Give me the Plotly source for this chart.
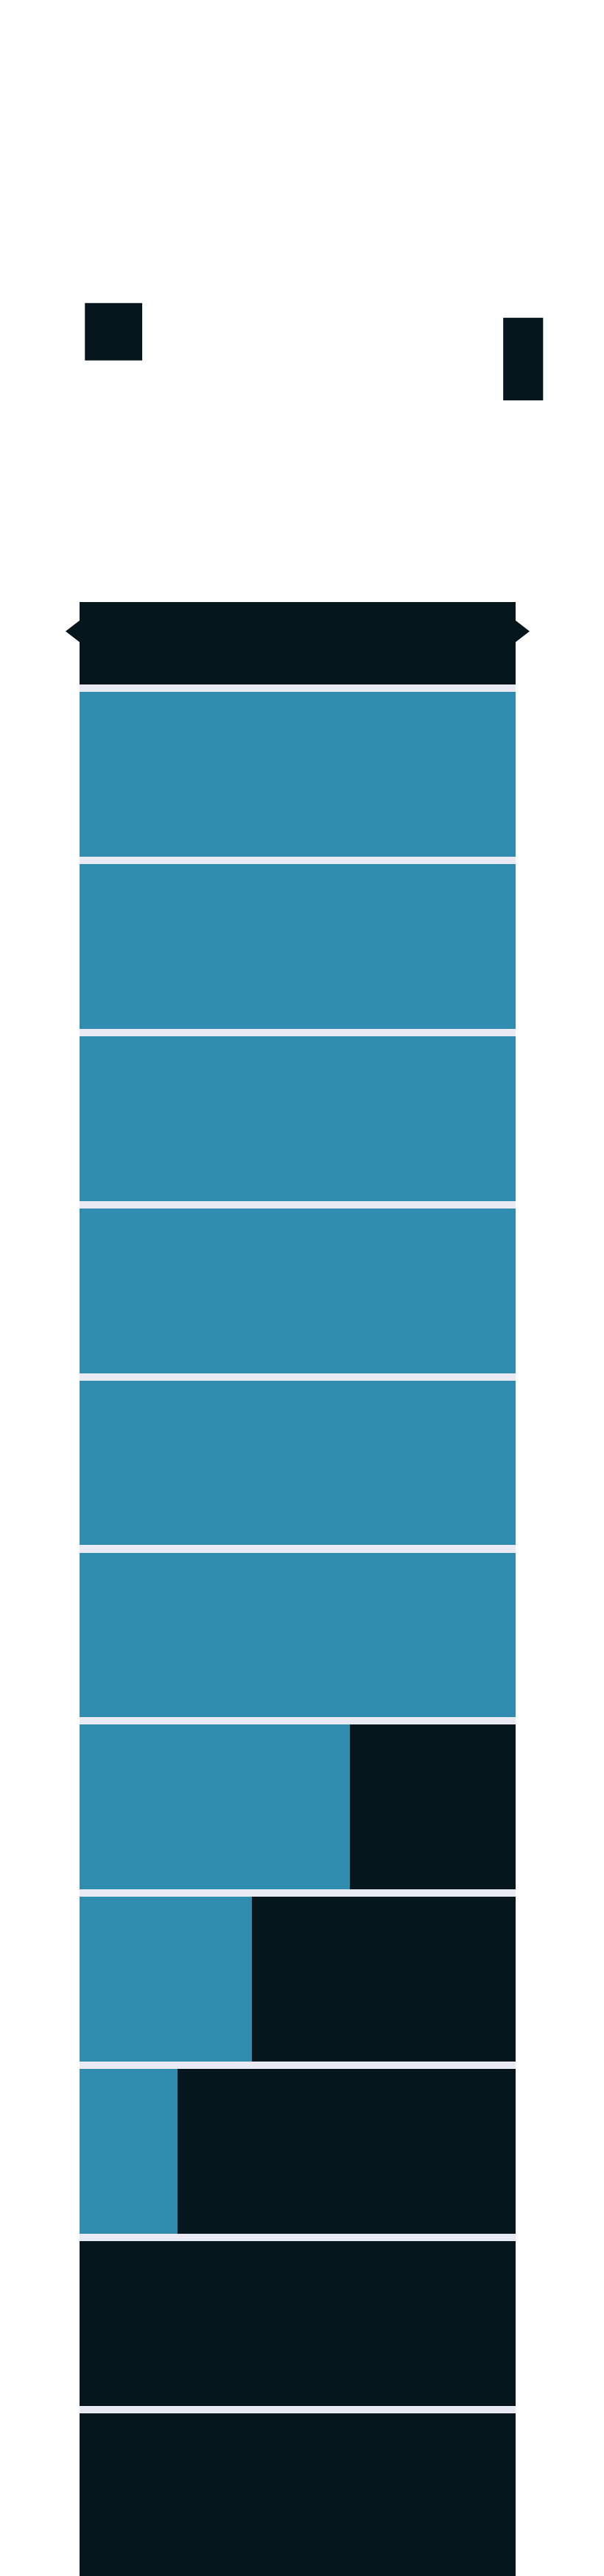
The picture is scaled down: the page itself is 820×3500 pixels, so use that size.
import plotly.graph_objects as go

# ---- data ----
rows = list(range(12))                      # row positions, top to bottom
filled = [0, 100, 100, 100, 100, 100, 100, 62, 39.5, 22.5, 0, 0]
remaining = [100 - v for v in filled]
ear_y = [0.17, 0.17]
ear_x = [0, 100]
ear_symbols = ["triangle-left", "triangle-right"]
glyphs = ["\u25a0", "\u25ae"]

BLUE = "#318DB0"
DARK = "#06161D"
GAP = "#E9EAF3"

fig = go.Figure()
fig.add_trace(go.Bar(y=rows, x=filled, orientation="h", width=0.957,
                     marker=dict(color=BLUE, line=dict(width=0)),
                     showlegend=False, hoverinfo="skip"))
fig.add_trace(go.Bar(y=rows, x=remaining, orientation="h", width=0.957,
                     marker=dict(color=DARK, line=dict(width=0)),
                     showlegend=False, hoverinfo="skip"))
fig.add_trace(go.Scatter(x=ear_x, y=ear_y, mode="markers", cliponaxis=False,
                         marker=dict(symbol=ear_symbols, size=38, color=DARK,
                                     line=dict(width=0)),
                         showlegend=False, hoverinfo="skip"))

fig.add_annotation(text=glyphs[0], xref="paper", yref="paper", x=0.0784, y=1.1398,
                   showarrow=False, font=dict(size=102, color=DARK, family="DejaVu Sans"),
                   xanchor="center", yanchor="middle")
fig.add_annotation(text=glyphs[1], xref="paper", yref="paper", x=1.0169, y=1.1275,
                   showarrow=False, font=dict(size=147, color=DARK, family="DejaVu Sans"),
                   xanchor="center", yanchor="middle")

fig.update_layout(
    width=820, height=3500,
    margin=dict(l=100, r=128, t=810, b=0, autoexpand=False),
    barmode="stack",
    paper_bgcolor="white",
    plot_bgcolor=GAP,
    xaxis=dict(range=[0, 100], visible=False, fixedrange=True),
    yaxis=dict(range=[11.50, 0], visible=False, fixedrange=True),
)

fig.write_html("out.html")
